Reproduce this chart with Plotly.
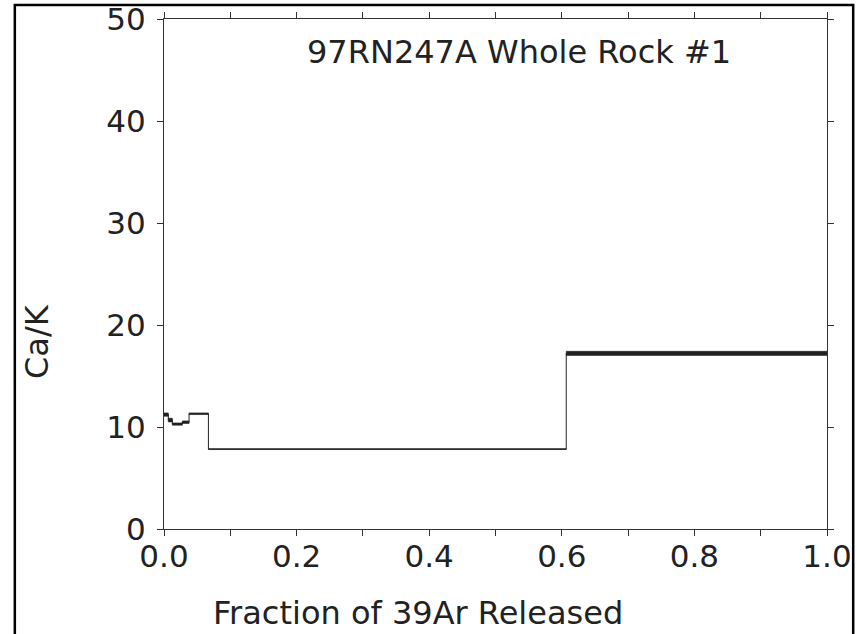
import plotly.graph_objects as go

# cumulative fraction of 39Ar released at the step edges
fraction_edges = [0.0, 0.0065, 0.0126, 0.0277, 0.0378, 0.067, 0.6067, 1.0]
# Ca/K of each heating step and its (1 sigma) uncertainty
ca_k = [11.22, 10.68, 10.29, 10.47, 11.30, 7.83, 17.22]
ca_k_err = [0.16, 0.18, 0.11, 0.13, 0.08, 0.04, 0.20]

x_ticks = [0.0, 0.2, 0.4, 0.6, 0.8, 1.0]
y_ticks = [0, 10, 20, 30, 40, 50]

FONT = "DejaVu Sans"
INK = "#222222"

# error boxes
bx, by = [], []
for i, v in enumerate(ca_k):
    x0, x1 = fraction_edges[i], fraction_edges[i + 1]
    e = ca_k_err[i]
    bx += [x0, x1, x1, x0, x0, None]
    by += [v - e, v - e, v + e, v + e, v - e, None]

fig = go.Figure()
fig.add_trace(go.Scatter(
    x=bx, y=by, mode="lines", fill="toself", fillcolor=INK,
    line=dict(color=INK, width=0.6), hoverinfo="skip", showlegend=False))
fig.add_trace(go.Scatter(
    x=fraction_edges, y=ca_k + [ca_k[-1]], mode="lines",
    line=dict(color=INK, width=1, shape="hv"), showlegend=False))

axis_common = dict(
    showline=True, linecolor="#333333", linewidth=1, mirror="ticks",
    ticks="outside", ticklen=6, tickwidth=1, tickcolor="#333333",
    showgrid=False, zeroline=False, automargin=False,
    tickfont=dict(family=FONT, size=31, color=INK),
)
fig.update_xaxes(range=[0, 1], tickvals=x_ticks, tickformat=".1f",
                 minor=dict(dtick=0.1, ticks="outside", ticklen=6, tickcolor="#333333", showgrid=False),
                 ticklabelstandoff=-6, **axis_common)
fig.update_yaxes(range=[0, 50], tickvals=y_ticks, ticklabelstandoff=5, **axis_common)

ann_common = dict(xref="paper", yref="paper", showarrow=False, xanchor="center", yanchor="middle",
                  font=dict(family=FONT, size=32, color=INK))
fig.add_annotation(text="97RN247A Whole Rock #1", x=0.5354, y=0.935, **ann_common)
fig.add_annotation(text="Fraction of 39Ar Released", x=0.383, y=-0.1647, **ann_common)
fig.add_annotation(text="Ca/K", x=-0.1916, y=0.3686, textangle=-90, **ann_common)

# outer frame of the figure
fig.add_shape(type="rect", xref="paper", yref="paper", x0=-0.225, x1=1.0395, y0=-0.35, y1=1.0275,
              line=dict(color="black", width=2.5), layer="below")

fig.update_layout(
    width=857, height=634, margin=dict(l=164, r=30, t=19, b=105),
    paper_bgcolor="white", plot_bgcolor="white",
)
fig.write_html("out.html")
